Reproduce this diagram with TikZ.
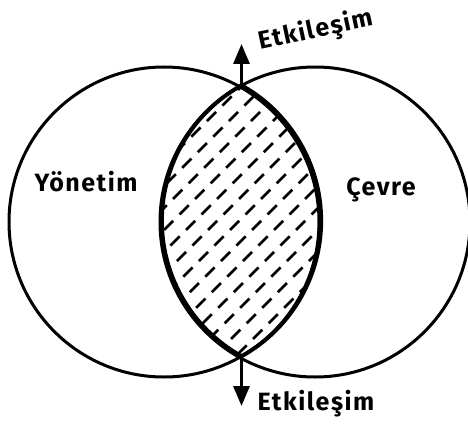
\documentclass[tikz,border=0pt]{standalone}
\usepackage{fontspec}
\setmainfont{Fira Sans}[LetterSpace=6]
\usetikzlibrary{arrows.meta}

\begin{document}
\begin{tikzpicture}[
    x=1pt, y=-1pt,
    >=Latex,
    ring/.style={draw, circle, line width=3pt, inner sep=0pt, outer sep=0pt,
        minimum size=310pt},
    lens/.style={line width=4pt, line join=round},
    hatch/.style={line width=2.8pt, dash pattern=on 13pt off 9pt},
    arrow/.style={line width=3pt, -{Triangle[width=16pt,length=20pt]}},
    label/.style={font=\fontsize{25}{28}\selectfont\bfseries}
]
\useasboundingbox (0,0) rectangle (468,425);

% Circles
\node[ring] (yon) at (164,222) {};
\node[ring] (cev) at (315,222) {};

% Labels
\node[label] (yontext) at (86,182) {Yönetim};
\node[label] (cevtext) at (381,190) {Çevre};

% Hatched overlap
\begin{scope}
\clip (yon.center) circle[radius=155pt];
\clip (cev.center) circle[radius=155pt];
\foreach \c in {240,262,...,700}
    \draw[hatch] (\c-370,370) -- (\c-80,80);
\end{scope}
\draw[lens] (yon.-60.9) arc[start angle=-60.9, end angle=60.9, radius=155pt]
    arc[start angle=119.1, end angle=240.9, radius=155pt] -- cycle;

% Interaction arrows
\coordinate (toptip) at (yon.60.9 |- 0,44);
\coordinate (bottip) at (yon.-60.9 |- 0,406);
\draw[arrow] (yon.60.9) -- (toptip);
\draw[arrow] (yon.-60.9) -- (bottip);
\node[label, rotate=12] (topnote) at (316,31) {Etkileşim};
\node[label] (botnote) at (316,404) {Etkileşim};

\end{tikzpicture}
\end{document}
